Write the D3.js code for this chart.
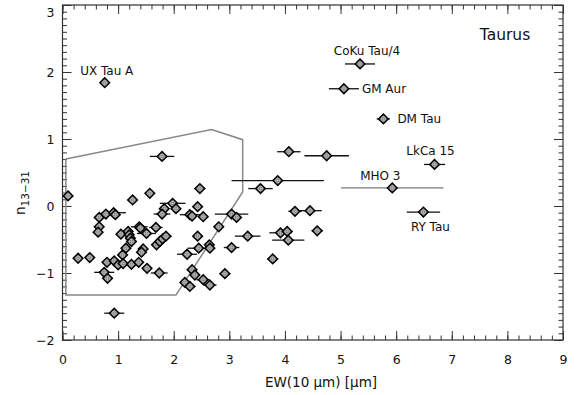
<!DOCTYPE html>
<html><head><meta charset="utf-8">
<script src="https://cdn.jsdelivr.net/npm/d3@7"></script>
<style>
body{margin:0;background:#fff;}
text{font-family:"DejaVu Sans",sans-serif;fill:#111;}
</style></head>
<body><svg id="c" width="579" height="395"></svg>
<script>
// ---- data ----
const ptX = [0.76,5.35,5.06,5.77,6.69,5.93,6.49,
 4.07,4.75,3.87,3.56,1.79,0.10,1.26,1.57,2.47,1.98,1.83,2.04,2.43,1.79,2.29,2.33,2.53,3.04,3.13,4.18,4.45,
 0.66,0.78,0.92,0.95,0.66,0.64,1.38,1.40,1.68,2.81,1.05,1.18,1.20,1.22,1.24,1.51,1.69,1.75,1.80,1.86,2.43,3.33,3.92,4.04,4.06,4.58,
 1.14,1.45,1.42,1.08,2.45,2.64,2.65,3.04,2.24,3.78,0.28,0.49,0.80,0.93,1.00,1.09,1.24,1.37,1.52,1.74,0.75,0.81,0.93,
 2.33,2.38,2.92,2.53,2.20,2.29,2.65];
const ptY = [1.84,2.12,1.75,1.30,0.62,0.27,-0.09,
 0.81,0.75,0.38,0.26,0.74,0.15,0.09,0.19,0.26,0.04,-0.04,-0.04,-0.01,-0.12,-0.13,-0.15,-0.16,-0.12,-0.17,-0.08,-0.07,
 -0.17,-0.12,-0.10,-0.13,-0.31,-0.39,-0.31,-0.33,-0.32,-0.31,-0.42,-0.38,-0.43,-0.48,-0.53,-0.41,-0.58,-0.53,-0.49,-0.45,-0.45,-0.45,-0.40,-0.38,-0.51,-0.37,
 -0.63,-0.64,-0.69,-0.73,-0.63,-0.58,-0.63,-0.62,-0.72,-0.79,-0.78,-0.77,-0.84,-0.82,-0.88,-0.86,-0.87,-0.84,-0.93,-1.00,-0.99,-1.08,-1.60,
 -0.95,-1.03,-1.01,-1.10,-1.14,-1.20,-1.18];
const ptErr = [0,0.27,0.27,0.12,0.19,0.92,0.30,
 0.21,0.40,0.83,0.22,0.22,0,0,0,0.10,0.23,0,0.05,0,0.15,0.18,0,0.08,0.30,0.08,0.12,0.21,
 0,0,0.22,0,0,0,0.15,0,0.12,0.08,0,0,0,0,0,0.17,0,0,0,0.10,0,0.23,0.20,0.10,0.29,0.10,
 0,0,0,0,0.20,0,0,0.14,0.18,0.10,0,0,0,0,0,0,0,0,0,0.15,0.18,0,0.18,
 0,0,0.10,0.12,0,0.10,0.12];
const ptName = ["UX Tau A","CoKu Tau/4","GM Aur","DM Tau","LkCa 15","MHO 3","RY Tau"];
const boxX = [0.06,2.68,3.24,3.24,2.04,0.06];
const boxY = [0.70,1.14,0.99,0.21,-1.33,-1.33];
const xTicks = [0,1,2,3,4,5,6,7,8,9];
const yTicks = [-2,-1,0,1,2,3];
const regionLabel = "Taurus";

// ---- layout ----
const svg = d3.select("#c");
const x = d3.scaleLinear().domain([0,9]).range([62.5,563]);
const y = d3.scaleLinear().domain([-2,3]).range([340,5]);
const L=62.5,R=563,T=5,B=340;
const axisCol="#333";
const labelOff = {"UX Tau A":[2,-8,"middle"],"CoKu Tau/4":[7,-9,"middle"],"GM Aur":[18,4,"start"],
  "DM Tau":[14,4,"start"],"LkCa 15":[-4,-9,"middle"],"MHO 3":[-12,-8,"middle"],"RY Tau":[7,19,"middle"]};

// frame
svg.append("rect").attr("x",L).attr("y",T).attr("width",R-L).attr("height",B-T)
  .attr("fill","none").attr("stroke",axisCol).attr("stroke-width",1.2);

const xMinor = d3.range(0,9.001,0.2).map(v=>+v.toFixed(2));
const yMinor = d3.range(-2,3.001,0.1).map(v=>+v.toFixed(2));
function styleAx(g){g.select(".domain").remove();g.selectAll("line").attr("stroke",axisCol).attr("stroke-width",1);}

// bottom
svg.append("g").attr("transform",`translate(0,${B})`).call(d3.axisBottom(x).tickValues(xMinor).tickFormat("").tickSizeInner(-4.5).tickSizeOuter(0)).call(styleAx);
svg.append("g").attr("transform",`translate(0,${B})`).call(d3.axisBottom(x).tickValues(xTicks).tickFormat(d3.format("d")).tickSizeInner(-9).tickSizeOuter(0).tickPadding(15)).call(styleAx)
  .selectAll("text").style("font-size","12.5px").style("font-family","DejaVu Sans");
// top
svg.append("g").attr("transform",`translate(0,${T})`).call(d3.axisTop(x).tickValues(xMinor).tickFormat("").tickSizeInner(-4.5).tickSizeOuter(0)).call(styleAx);
svg.append("g").attr("transform",`translate(0,${T})`).call(d3.axisTop(x).tickValues(xTicks).tickFormat("").tickSizeInner(-9).tickSizeOuter(0)).call(styleAx);
// left
svg.append("g").attr("transform",`translate(${L},0)`).call(d3.axisLeft(y).tickValues(yMinor).tickFormat("").tickSizeInner(-4.5).tickSizeOuter(0)).call(styleAx);
const yAx = svg.append("g").attr("transform",`translate(${L},0)`).call(d3.axisLeft(y).tickValues(yTicks).tickFormat(d=>d<0?"\u2212"+(-d):d).tickSizeInner(-9).tickSizeOuter(0).tickPadding(8)).call(styleAx);
yAx.selectAll("text").style("font-size","12.5px").style("font-family","DejaVu Sans");
yAx.selectAll(".tick").filter(d=>d===3).select("text").attr("dy","0.95em");
// right
svg.append("g").attr("transform",`translate(${R},0)`).call(d3.axisRight(y).tickValues(yMinor).tickFormat("").tickSizeInner(-4.5).tickSizeOuter(0)).call(styleAx);
svg.append("g").attr("transform",`translate(${R},0)`).call(d3.axisRight(y).tickValues(yTicks).tickFormat("").tickSizeInner(-9).tickSizeOuter(0)).call(styleAx);

// polygon region
const boxPts = boxX.map((v,i)=>[x(v),y(boxY[i])]);
svg.append("path").attr("d",d3.line()(boxPts)+"Z").attr("fill","none").attr("stroke","#888").attr("stroke-width",1.5);

// points
const pts = ptX.map((v,i)=>({x:v,y:ptY[i],e:ptErr[i],name:i<ptName.length?ptName[i]:""}));
svg.append("g").selectAll("line").data(pts.filter(d=>d.e>0)).join("line")
  .attr("x1",d=>x(d.x-d.e)).attr("x2",d=>x(d.x+d.e)).attr("y1",d=>y(d.y)).attr("y2",d=>y(d.y))
  .attr("stroke",d=>d.name==="MHO 3"?"#777":"#111").attr("stroke-width",1.3);
const s=4.9;
const mk = svg.append("g").selectAll("g").data(pts).join("g").attr("transform",d=>`translate(${x(d.x)},${y(d.y)})`);
mk.append("path").attr("d",`M0,${-s}L${s},0L0,${s}L${-s},0Z`).attr("fill","#6e6e6e").attr("stroke","#000").attr("stroke-width",1.4);
mk.append("circle").attr("r",2.2).attr("fill","none").attr("stroke","#ccc").attr("stroke-width",0.7);
mk.append("path").attr("d","M0,-2.2V2.2M-2.2,0H2.2").attr("stroke","#ccc").attr("stroke-width",0.6);

// labels
svg.append("g").selectAll("text").data(pts.filter(d=>d.name)).join("text")
  .attr("x",d=>x(d.x)+labelOff[d.name][0]).attr("y",d=>y(d.y)+labelOff[d.name][1])
  .attr("text-anchor",d=>labelOff[d.name][2]).style("font-size","12px").text(d=>d.name);

svg.append("text").attr("x",505).attr("y",40).attr("text-anchor","middle").style("font-size","15.5px").text(regionLabel);

// axis titles
svg.append("text").attr("x",321).attr("y",387).attr("text-anchor","middle").style("font-size","13.5px")
  .text("EW(10 \u03bcm) [\u03bcm]");
const yl = svg.append("text").attr("transform","translate(25,193) rotate(-90)").attr("text-anchor","middle").style("font-size","13.5px");
yl.append("tspan").text("n");
yl.append("tspan").attr("dy","4").style("font-size","10.5px").text("13\u221231");
</script></body></html>
